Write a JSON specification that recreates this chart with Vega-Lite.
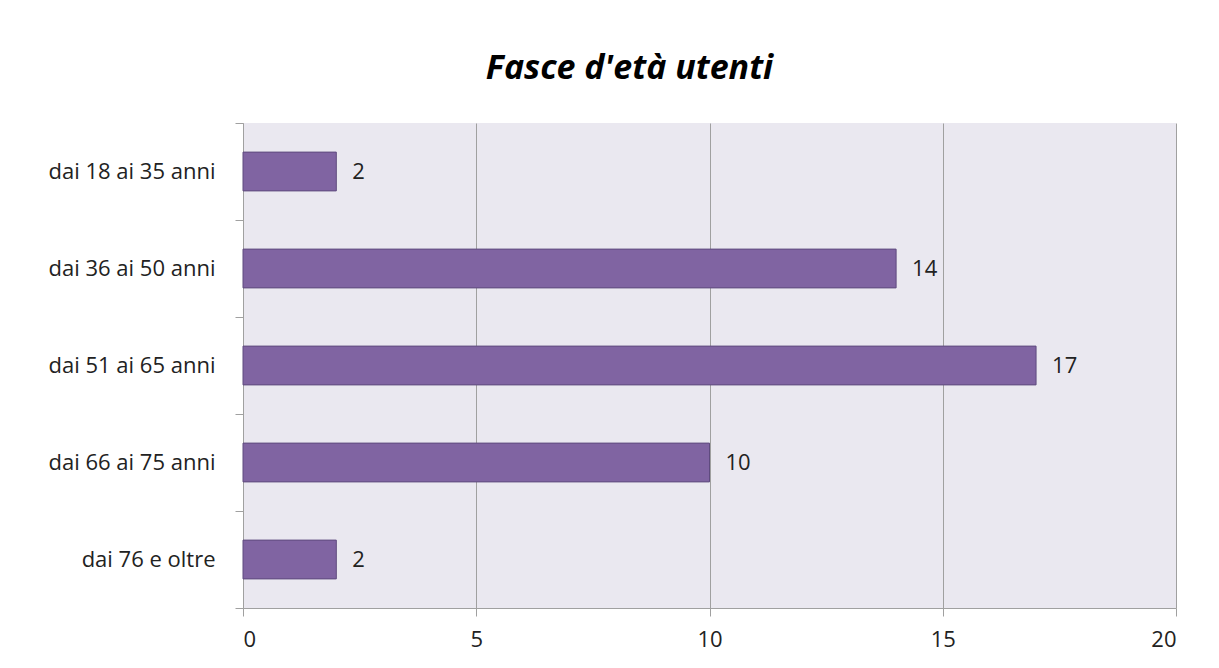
{
  "$schema": "https://vega.github.io/schema/vega-lite/v6.json",
  "width": 933,
  "height": 485,
  "autosize": {"type": "none"},
  "padding": {"left": 243, "top": 123, "right": 43, "bottom": 60},
  "background": "white",
  "title": {
    "text": "Fasce d'età utenti",
    "font": "Open Sans",
    "fontSize": 34,
    "fontStyle": "italic",
    "fontWeight": "bold",
    "color": "#000000",
    "anchor": "middle",
    "dx": -80,
    "offset": 26
  },
  "data": {
    "values": [
      {"fascia": "dai 18 ai 35 anni", "n": 2},
      {"fascia": "dai 36 ai 50 anni", "n": 14},
      {"fascia": "dai 51 ai 65 anni", "n": 17},
      {"fascia": "dai 66 ai 75 anni", "n": 10},
      {"fascia": "dai 76 e oltre", "n": 2}
    ]
  },
  "encoding": {
    "y": {
      "field": "fascia",
      "type": "nominal",
      "sort": null,
      "scale": {"paddingInner": 0, "paddingOuter": 0},
      "axis": {
        "title": null,
        "bandPosition": 0,
        "tickBand": "extent",
        "labelFont": "Open Sans",
        "labelFontSize": 22,
        "labelColor": "#222222",
        "labelPadding": 20,
        "tickSize": 8,
        "tickColor": "#A0A0A0",
        "domainColor": "#A0A0A0",
        "grid": false
      }
    },
    "x": {
      "field": "n",
      "type": "quantitative",
      "scale": {"domain": [0, 20]},
      "axis": {
        "title": null,
        "values": [0, 5, 10, 15, 20],
        "labelFont": "Open Sans",
        "labelFontSize": 22,
        "labelColor": "#222222",
        "labelPadding": 13,
        "tickSize": 8,
        "tickColor": "#A0A0A0",
        "domainColor": "#A0A0A0",
        "gridColor": "#A0A0A0",
        "gridOpacity": 1
      }
    }
  },
  "layer": [
    {
      "mark": {"type": "bar", "height": {"band": 0.4}, "color": "#8064A2", "stroke": "#5E4A7E", "strokeWidth": 1}
    },
    {
      "mark": {"type": "text", "align": "left", "baseline": "middle", "dx": 16, "font": "Open Sans", "fontSize": 22, "color": "#222222"},
      "encoding": {"text": {"field": "n", "type": "quantitative"}}
    }
  ],
  "config": {
    "view": {"fill": "#EAE8F0", "stroke": null}
  }
}
